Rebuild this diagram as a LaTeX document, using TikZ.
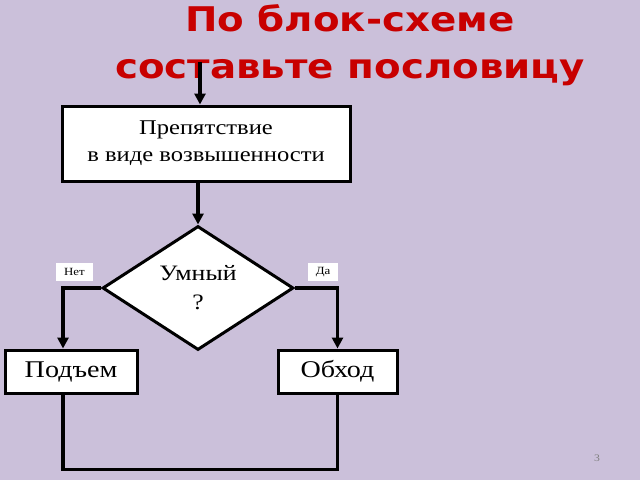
\documentclass[tikz,border=0pt]{standalone}
\usepackage{fontspec}
\setmainfont{Liberation Serif}[FakeStretch=1.17]
\newfontfamily\titlefont{DejaVu Sans}[FakeStretch=1.14]
\usepackage{xcolor}
\usetikzlibrary{shapes.geometric, arrows.meta, positioning, calc}

\definecolor{slidebg}{RGB}{203,192,218}
\definecolor{titlered}{RGB}{200,0,0}

\begin{document}
\begin{tikzpicture}[
    x=1pt, y=-1pt,
    box/.style={rectangle, draw, line width=3pt, fill=white,
                inner sep=0pt, align=center},
    cond/.style={diamond, draw, line width=3pt, fill=white,
                 inner sep=0pt, minimum width=191pt, minimum height=124pt,
                 align=center, font=\fontsize{22}{29}\selectfont},
    tag/.style={rectangle, fill=white, inner sep=0pt,
                font=\fontsize{11}{13}\selectfont},
    arrow/.style={-{Triangle[length=11pt,width=11pt]}, line width=3.5pt},
    line/.style={line width=3.5pt}
]

%% --- Background and title ---
\fill[slidebg] (0,0) rectangle (640,480);
\useasboundingbox (0,0) rectangle (640,480);

\node[font=\titlefont\bfseries\fontsize{34}{47}\selectfont, text=titlered,
      align=center, anchor=base] (title) at (350,78)
      {По блок-схеме\\составьте пословицу};

%% --- Blocks ---
\node[box, minimum width=288pt, minimum height=75pt,
      font=\fontsize{21}{27}\selectfont] (obstacle) at (206,143.5)
      {Препятствие\\в виде возвышенности};

\node[cond] (smart) at (198,288) {Умный\\?};

\node[box, minimum width=132pt, minimum height=43pt,
      font=\fontsize{24}{28}\selectfont] (climb) at (71,371.5) {Подъем};
\node[box, minimum width=119pt, minimum height=43pt,
      font=\fontsize{24}{28}\selectfont] (detour) at (337.5,371.5) {Обход};

\node[tag, minimum width=37pt, minimum height=18pt] (no) at (74.5,272) {Нет};
\node[tag, minimum width=30pt, minimum height=18pt] (yes) at (323,272) {Да};

\node[text=gray, font=\fontsize{10}{12}\selectfont] (page) at (597,458) {3};

%% --- Connectors ---
\coordinate (start) at (200,62);
\draw[arrow] (start) -- (start |- obstacle.north);
\draw[arrow] (obstacle.south -| smart.north) -- (smart.north);

\draw[arrow] (smart.west) -| (climb.north -| 63,0);
\draw[arrow] (smart.east) -| (detour.north);

\draw[line] (climb.south -| 63,0) -- ++(0,75) -| (detour.south);

\end{tikzpicture}
\end{document}
